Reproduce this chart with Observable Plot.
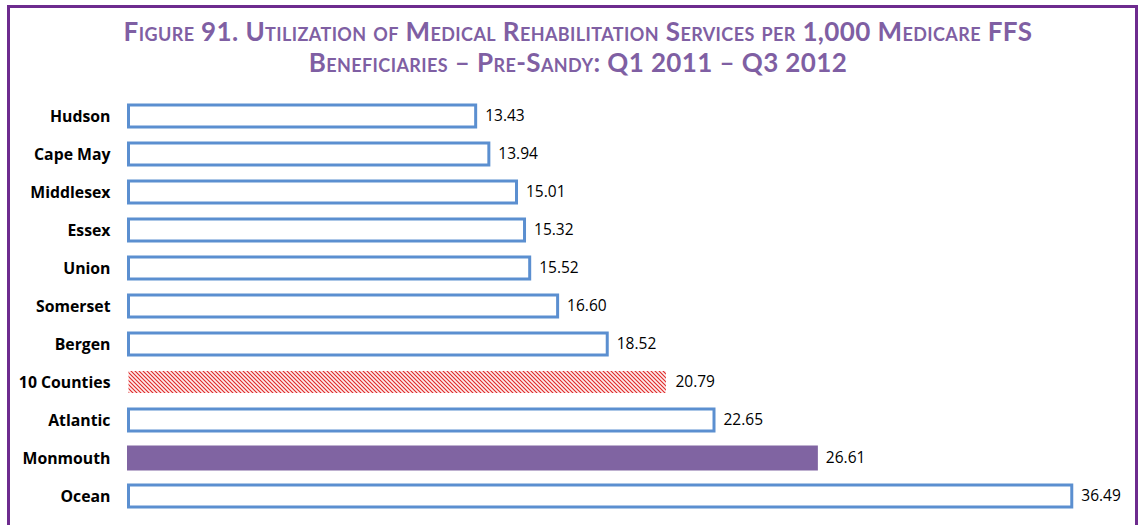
<!DOCTYPE html>
<html>
<head>
<meta charset="utf-8">
<script src="https://cdn.jsdelivr.net/npm/d3@7"></script>
<script src="https://cdn.jsdelivr.net/npm/@observablehq/plot@0.6"></script>
<style>
  html, body { margin: 0; padding: 0; background: #fff; }
  #wrap { position: relative; width: 1138px; height: 525px; overflow: hidden; font-family: "Open Sans", sans-serif; }
  #frame { position: absolute; left: 7px; top: 5px; width: 1125px; height: 600px; border: 3px solid #6d2b8e; box-sizing: content-box; }
  .tl { position: absolute; left: 0; width: 1156px; text-align: center; color: #7f5fa3; font-family: Lato, sans-serif; font-weight: 700; font-size: 26px; line-height: 30px; font-variant: small-caps; letter-spacing: 0.4px; white-space: nowrap; }
  #t1 { top: 16px; }
  #t2 { top: 47px; }
  #chart { position: absolute; left: 0; top: 0; }
</style>
</head>
<body>
<div id="wrap">
  <div id="frame"></div>
  <div class="tl" id="t1">Figure 91. Utilization of Medical Rehabilitation Services per 1,000 Medicare FFS</div>
  <div class="tl" id="t2">Beneficiaries – Pre-Sandy: Q1 2011 – Q3 2012</div>
  <div id="chart"></div>
</div>
<script>
const counties = ["Hudson", "Cape May", "Middlesex", "Essex", "Union", "Somerset", "Bergen", "10 Counties", "Atlantic", "Monmouth", "Ocean"];
const values = [13.43, 13.94, 15.01, 15.32, 15.52, 16.60, 18.52, 20.79, 22.65, 26.61, 36.49];
const kinds = ["county", "county", "county", "county", "county", "county", "county", "total", "county", "highlight", "county"];

const data = counties.map((c, i) => ({county: c, value: values[i], kind: kinds[i]}));

const fillOf = k => k === "highlight" ? "#8064a2" : k === "total" ? "url(#hatch)" : "white";
const strokeOf = k => k === "highlight" ? "#8064a2" : k === "total" ? "none" : "#5b8fd0";

const chart = Plot.plot({
  width: 1138,
  height: 525,
  marginLeft: 128.5,
  marginRight: 27.2,
  marginTop: 89.5,
  marginBottom: 1.5,
  style: {fontFamily: "Open Sans, sans-serif", background: "transparent"},
  x: {domain: [0, 38], axis: null},
  y: {domain: counties, padding: 0.421, label: null},
  marks: [
    Plot.barX(data, {
      y: "county", x: "value",
      fill: d => fillOf(d.kind),
      stroke: d => strokeOf(d.kind),
      strokeWidth: 3
    }),
    Plot.text(data, {
      y: "county", x: "value", text: d => d.value.toFixed(2),
      textAnchor: "start", dx: 9, fontSize: 15.5, fill: "#000"
    }),
    Plot.axisY({tickSize: 0, tickPadding: 18.5, fontSize: 15.8, fontWeight: "bold", fill: "#000", label: null})
  ]
});

const svg = d3.select(chart);
const defs = svg.insert("defs", ":first-child");
const pat = defs.append("pattern")
  .attr("id", "hatch").attr("patternUnits", "userSpaceOnUse")
  .attr("width", 4).attr("height", 4);
pat.append("rect").attr("width", 4).attr("height", 4).attr("fill", "#fdeeee");
pat.append("path").attr("d", "M-1,-1 L5,5 M3,-1 L5,1 M-1,3 L1,5")
  .attr("stroke", "#e02828").attr("stroke-width", 1.1);

document.getElementById("chart").appendChild(chart);
</script>
</body>
</html>
